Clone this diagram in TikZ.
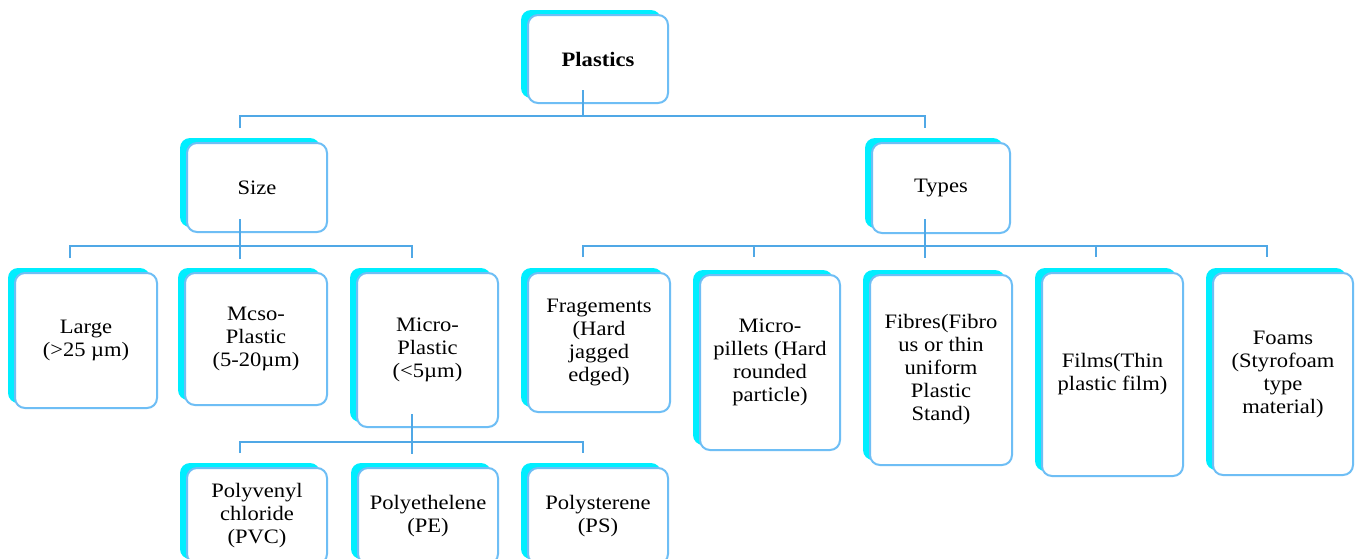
\documentclass[tikz,border=0pt]{standalone}
\usepackage{fontspec}
\setmainfont{Liberation Serif}[FakeStretch=1.1]
\usetikzlibrary{shadows}
\definecolor{bcol}{RGB}{110,190,245}
\definecolor{lcol}{RGB}{80,168,230}
\definecolor{shcol}{RGB}{0,238,255}
\begin{document}
\begin{tikzpicture}[x=1pt,y=-1pt,
  box/.style={draw=bcol, line width=2pt, fill=white, rounded corners=10pt,
    align=center, inner sep=0pt, font=\fontsize{20.5}{23}\selectfont,
    drop shadow={shadow xshift=-7pt, shadow yshift=5pt, fill=shcol, opacity=1}},
  conn/.style={draw=lcol, line width=1.7pt}]
\useasboundingbox[fill=white] (0,0) rectangle (1356,558);
\begin{scope}
\clip (0,0) rectangle (1356,558);
% level 0
\node[box, minimum width=140pt, minimum height=88pt] (plastics) at (598,59) {\textbf{Plastics}};
% level 1
\node[box, minimum width=140pt, minimum height=89pt] (size) at (257,187.5) {Size};
\node[box, minimum width=138pt, minimum height=90pt] (types) at (941,188) {Types};
% level 2
\node[box, minimum width=142pt, minimum height=135pt] (large) at (86,340.5) {Large\\(>25 µm)};
\node[box, minimum width=142pt, minimum height=132pt] (meso) at (256,339) {Mcso-\\Plastic\\(5-20µm)};
\node[box, minimum width=141pt, minimum height=154pt] (micro) at (427.5,350) {Micro-\\Plastic\\(<5µm)};
\node[box, minimum width=142pt, minimum height=139pt] (frag) at (599,342.5) {Fragements\\(Hard\\jagged\\edged)};
\node[box, minimum width=140pt, minimum height=175pt] (pill) at (770,362.5) {Micro-\\pillets (Hard\\rounded\\particle)};
\node[box, minimum width=142pt, minimum height=190pt] (fibre) at (941,370) {Fibres(Fibro\\us or thin\\uniform\\Plastic\\Stand)};
\node[box, minimum width=141pt, minimum height=203pt] (film) at (1112.5,374.5) {Films(Thin\\plastic film)};
\node[box, minimum width=140pt, minimum height=202pt] (foam) at (1283,374) {Foams\\(Styrofoam\\type\\material)};
% level 3
\node[box, minimum width=140pt, minimum height=96pt] (pvc) at (257,516) {Polyvenyl\\chloride\\(PVC)};
\node[box, minimum width=140pt, minimum height=96pt] (pe) at (428,516) {Polyethelene\\(PE)};
\node[box, minimum width=140pt, minimum height=96pt] (ps) at (598,516) {Polysterene\\(PS)};
% connectors
\coordinate (t0) at (583,116);
\coordinate (tL) at (240,116);
\coordinate (tR) at (925,116);
\draw[conn] (plastics.south -| t0) ++(0,-14) -- (t0);
\draw[conn] (tL) ++(0,12) -- (tL) -- (tR) -- ++(0,12);
\coordinate (sb) at (240,246);
\coordinate (sL) at (70,246);
\coordinate (sR) at (412,246);
\draw[conn] (size.south -| sb) ++(0,-14) -- ++(0,40);
\draw[conn] (sL) ++(0,12) -- (sL) -- (sR) -- ++(0,12);
\coordinate (ty) at (925,246);
\coordinate (yA) at (583,246);
\coordinate (yB) at (754,246);
\coordinate (yD) at (1096,246);
\coordinate (yE) at (1267,246);
\draw[conn] (types.south -| ty) ++(0,-15) -- ++(0,39);
\draw[conn] (yA) ++(0,11) -- (yA) -- (yE) -- ++(0,11);
\draw[conn] (yB) -- ++(0,11);
\draw[conn] (yD) -- ++(0,11);
\coordinate (mb) at (412,442);
\coordinate (mL) at (240,442);
\coordinate (mR) at (583,442);
\draw[conn] (micro.south -| mb) ++(0,-14) -- ++(0,40);
\draw[conn] (mL) ++(0,11) -- (mL) -- (mR) -- ++(0,11);
\end{scope}
\end{tikzpicture}
\end{document}
